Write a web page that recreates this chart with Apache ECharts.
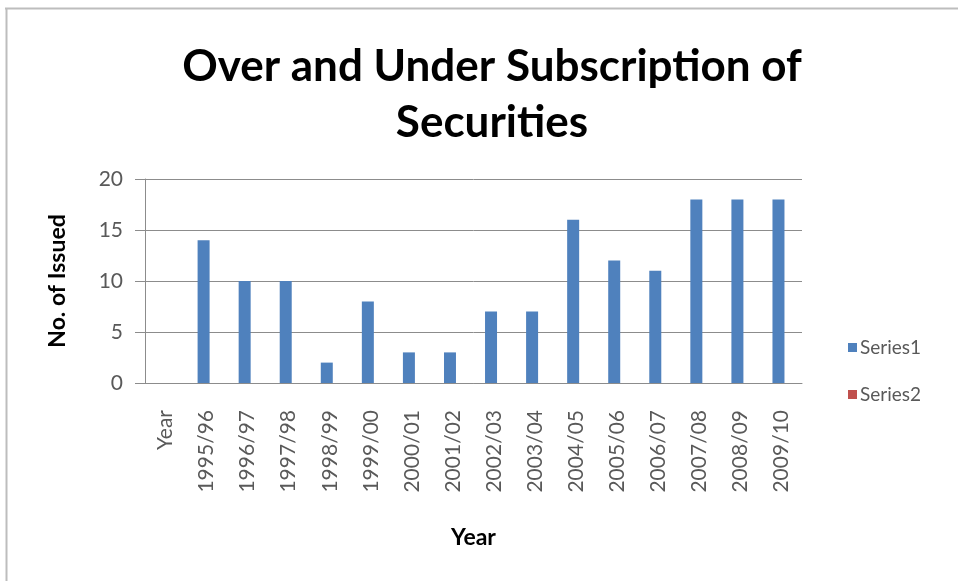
<!DOCTYPE html>
<html>
<head>
<meta charset="utf-8">
<script src="https://cdn.jsdelivr.net/npm/echarts@6/dist/echarts.min.js"></script>
<style>
  html, body { margin: 0; padding: 0; background: #fff; }
  #chart { width: 958px; height: 581px; }
</style>
</head>
<body>
<div id="chart"></div>
<script>
// Financial years on the category axis
const categories = ['Year', '1995/96', '1996/97', '1997/98', '1998/99', '1999/00', '2000/01',
  '2001/02', '2002/03', '2003/04', '2004/05', '2005/06', '2006/07', '2007/08', '2008/09', '2009/10'];
// Number of securities issued per year
const series1 = [null, 14, 10, 10, 2, 8, 3, 3, 7, 7, 16, 12, 11, 18, 18, 18];
// Second series has no values
const series2 = categories.map(() => null);
const yTicks = { min: 0, max: 20, interval: 5 };

const FONT = 'Lato, "Open Sans", sans-serif';
const chart = echarts.init(document.getElementById('chart'));
chart.setOption({
  animation: false,
  backgroundColor: '#fff',
  title: {
    text: 'Over and Under Subscription of\nSecurities',
    left: 487,
    top: 34,
    textAlign: 'center',
    textStyle: { fontFamily: FONT, fontWeight: 'bold', fontSize: 44, lineHeight: 56, color: '#000' }
  },
  legend: {
    orient: 'vertical',
    left: 843,
    top: 333,
    itemWidth: 9,
    itemHeight: 9,
    itemGap: 28,
    icon: 'rect',
    data: ['Series1', 'Series2'],
    textStyle: { fontFamily: FONT, fontSize: 19, color: '#595959', padding: [0, 0, 0, -2] }
  },
  grid: { left: 145, right: 156, top: 179, bottom: 198 },
  xAxis: {
    type: 'category',
    data: categories,
    name: 'Year',
    nameLocation: 'middle',
    nameGap: 143,
    nameTextStyle: { fontFamily: FONT, fontWeight: 'bold', fontSize: 23, color: '#000' },
    axisLine: { lineStyle: { color: '#8c8c8c' } },
    axisTick: { show: false },
    axisLabel: { rotate: 90, margin: 27, fontFamily: FONT, fontSize: 21, color: '#595959' }
  },
  yAxis: {
    type: 'value',
    min: yTicks.min, max: yTicks.max, interval: yTicks.interval,
    name: 'No. of Issued',
    nameLocation: 'middle',
    nameGap: 76,
    nameTextStyle: { fontFamily: FONT, fontWeight: 'bold', fontSize: 23, color: '#000' },
    axisLine: { show: true, lineStyle: { color: '#8c8c8c' } },
    axisTick: { show: true, length: 10, lineStyle: { color: '#8c8c8c' } },
    axisLabel: { margin: 22, fontFamily: FONT, fontSize: 21, color: '#595959' },
    splitLine: { lineStyle: { color: '#8c8c8c' } }
  },
  series: [
    { name: 'Series1', type: 'bar', data: series1, barWidth: 12, barGap: '-50%',
      itemStyle: { color: '#4F81BD' } },
    { name: 'Series2', type: 'bar', data: series2, barWidth: 12,
      itemStyle: { color: '#C0504D' } }
  ],
  graphic: [
    { type: 'line', shape: { x1: 5, y1: 8.5, x2: 958, y2: 8.5 }, style: { stroke: '#bdbdbd', lineWidth: 2 } },
    { type: 'line', shape: { x1: 6.5, y1: 8, x2: 6.5, y2: 581 }, style: { stroke: '#bdbdbd', lineWidth: 2 } }
  ]
});
</script>
</body>
</html>
